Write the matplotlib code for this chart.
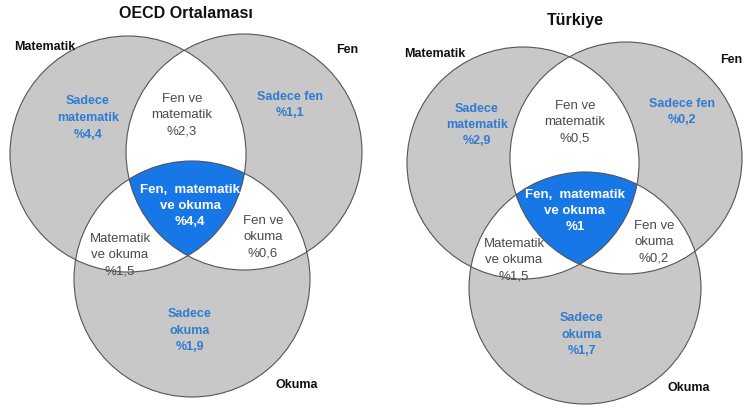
import numpy as np
import matplotlib
matplotlib.use('Agg')
import matplotlib.pyplot as plt
from matplotlib.patches import Circle, Polygon

plt.rcParams['font.family'] = ['Liberation Sans', 'DejaVu Sans']

# region order: only math, only science, only reading, math+sci, math+read, sci+read, all three
region_names = ['Sadece\nmatematik', 'Sadece fen', 'Sadece\nokuma', 'Fen ve\nmatematik',
                'Matematik\nve okuma', 'Fen ve\nokuma', 'Fen,  matematik\nve okuma']
oecd_vals = [4.4, 1.1, 1.9, 2.3, 1.5, 0.6, 4.4]
tr_vals = [2.9, 0.2, 1.7, 0.5, 1.5, 0.2, 1.0]
titles = ['OECD Ortalaması', 'Türkiye']
set_names = ['Matematik', 'Fen', 'Okuma']

GRAY = '#c8c8c8'
BLUE = '#1777e6'
TXT_BLUE = '#2f7bd0'
TXT_GRAY = '#4a4a4a'

fig = plt.figure(figsize=(7.44, 4.1), dpi=100)
ax = fig.add_axes([0, 0, 1, 1])
ax.set_xlim(0, 744)
ax.set_ylim(410, 0)
ax.axis('off')


def fmt(v):
    return '%' + f'{v:g}'.replace('.', ',')


def draw_venn(circles, vals, title, title_pos, text_pos, name_pos, name_ha):
    (mx, my, mr), (fx, fy, fr), (ox, oy, orr) = circles
    cm = Circle((mx, my), mr, fc=GRAY, ec='none', zorder=1)
    cf = Circle((fx, fy), fr, fc=GRAY, ec='none', zorder=1)
    co = Circle((ox, oy), orr, fc=GRAY, ec='none', zorder=1)
    for c in (cm, cf, co):
        ax.add_patch(c)
    # pairwise intersections in white
    for a, b in ((cm, cf), (cm, co), (cf, co)):
        w = Circle(b.center, b.radius, fc='white', ec='none', zorder=2)
        ax.add_patch(w)
        w.set_clip_path(a)
    # triple intersection: convex, collect boundary points inside all circles
    t = np.linspace(0, 2 * np.pi, 2000)
    pts = []
    for cx, cy, r in circles:
        px = cx + r * np.cos(t)
        py = cy + r * np.sin(t)
        ok = np.ones_like(t, dtype=bool)
        for ccx, ccy, rr in circles:
            ok &= (px - ccx) ** 2 + (py - ccy) ** 2 <= rr ** 2 + 1e-6
        pts.append(np.c_[px[ok], py[ok]])
    pts = np.vstack(pts)
    c0 = pts.mean(axis=0)
    order = np.argsort(np.arctan2(pts[:, 1] - c0[1], pts[:, 0] - c0[0]))
    ax.add_patch(Polygon(pts[order], closed=True, fc=BLUE, ec='none', zorder=3))
    for cx, cy, r in circles:
        ax.add_patch(Circle((cx, cy), r, fc='none', ec='#555555', lw=0.8, zorder=4))

    ax.text(title_pos[0], title_pos[1], title, ha='center', va='center',
            fontsize=11.5, fontweight='bold', color='#111111')
    for i, (name, v) in enumerate(zip(region_names, vals)):
        x, y = text_pos[i]
        s = name + '\n' + fmt(v)
        if i < 3:
            ax.text(x, y, s, ha='center', va='center', fontsize=9, fontweight='bold',
                    color=TXT_BLUE, linespacing=1.5, zorder=5)
        elif i < 6:
            ax.text(x, y, s, ha='center', va='center', fontsize=9.5,
                    color=TXT_GRAY, linespacing=1.45, zorder=5)
        else:
            ax.text(x, y, s, ha='center', va='center', fontsize=9.5, fontweight='bold',
                    color='white', linespacing=1.4, zorder=5)
    for nm, (x, y), ha in zip(set_names, name_pos, name_ha):
        ax.text(x, y, nm, ha=ha, va='center', fontsize=9, fontweight='bold',
                color='#111111', zorder=5)


draw_venn([(128, 155, 118), (244, 153, 118), (192, 280, 118)], oecd_vals, titles[0], (186, 14),
          [(88, 118), (290, 105), (190, 331), (182, 115), (120, 255), (263, 237), (190, 206)],
          [(45, 47), (347, 50), (297, 385)], ['center', 'center', 'center'])
draw_venn([(523, 164, 116), (626, 159, 116), (585, 289, 116)], tr_vals, titles[1], (575, 20),
          [(477, 125), (682, 112), (582, 335), (575, 122), (514, 260), (654, 242), (575, 211)],
          [(435, 54), (742, 60), (689, 388)], ['center', 'right', 'center'])

fig.savefig('out.png', dpi=100)
